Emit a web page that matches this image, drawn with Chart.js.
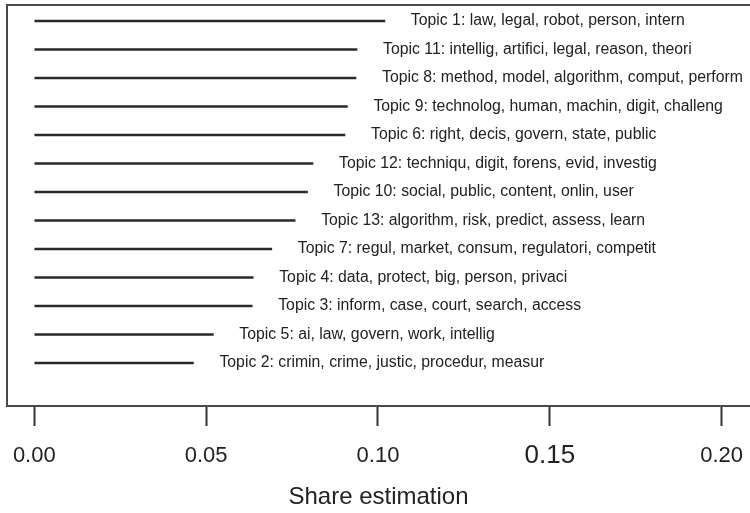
<!DOCTYPE html>
<html>
<head>
<meta charset="utf-8">
<style>
  html, body { margin: 0; padding: 0; background: #fff; overflow: hidden; }
  #wrap { width: 750px; height: 513px; }
</style>
<script src="https://cdn.jsdelivr.net/npm/chart.js@4/dist/chart.umd.min.js"></script>
</head>
<body>
<div id="wrap"><canvas id="c" width="750" height="513"></canvas></div>
<script>
// Topics, listed top to bottom
const topicLabels = [
  "Topic 1: law, legal, robot, person, intern",
  "Topic 11: intellig, artifici, legal, reason, theori",
  "Topic 8: method, model, algorithm, comput, perform",
  "Topic 9: technolog, human, machin, digit, challeng",
  "Topic 6: right, decis, govern, state, public",
  "Topic 12: techniqu, digit, forens, evid, investig",
  "Topic 10: social, public, content, onlin, user",
  "Topic 13: algorithm, risk, predict, assess, learn",
  "Topic 7: regul, market, consum, regulatori, competit",
  "Topic 4: data, protect, big, person, privaci",
  "Topic 3: inform, case, court, search, access",
  "Topic 5: ai, law, govern, work, intellig",
  "Topic 2: crimin, crime, justic, procedur, measur"
];
// Estimated topic shares
const topicShares = [0.1020, 0.0939, 0.0936, 0.0911, 0.0904, 0.0811, 0.0795,
                     0.0759, 0.0691, 0.0637, 0.0634, 0.0521, 0.0463];
const xTickValues = [0, 0.05, 0.10, 0.15, 0.20];
const xTickLabels = ["0.00", "0.05", "0.10", "0.15", "0.20"];
const axisTitle = "Share estimation";

const FONT = "'Liberation Sans', Arial, Helvetica, sans-serif";
const INK = "#222";

// row position: first topic at the top
const rows = topicShares.map((v, i) => ({ x: v, y: topicShares.length - i, label: topicLabels[i] }));

// frame: top and left edges of the plot box
const framePlugin = {
  id: 'frame',
  beforeDatasetsDraw(chart) {
    const { ctx, chartArea: a } = chart;
    ctx.save();
    ctx.strokeStyle = '#4a4a4a';
    ctx.lineWidth = 2;
    ctx.beginPath();
    ctx.moveTo(a.left, a.bottom);
    ctx.lineTo(a.left, a.top);
    ctx.lineTo(chart.width + 2, a.top);
    ctx.stroke();
    ctx.restore();
  }
};

// topic label written just right of each line's end
const topicTextPlugin = {
  id: 'topicText',
  afterDatasetsDraw(chart) {
    const { ctx, scales: { x, y } } = chart;
    ctx.save();
    ctx.font = `15.8px ${FONT}`;
    ctx.fillStyle = INK;
    ctx.textAlign = 'left';
    ctx.textBaseline = 'middle';
    rows.forEach(r => {
      ctx.fillText(r.label, x.getPixelForValue(r.x) + 26, y.getPixelForValue(r.y));
    });
    ctx.restore();
  }
};

new Chart(document.getElementById('c'), {
  type: 'bar',
  data: {
    datasets: [{
      data: rows,
      backgroundColor: '#2a2a2a',
      borderWidth: 0,
      barThickness: 2
    }]
  },
  options: {
    indexAxis: 'y',
    responsive: false,
    animation: false,
    events: [],
    layout: { padding: { left: 7, top: 5, right: 0, bottom: 0 } },
    plugins: { legend: { display: false }, tooltip: { enabled: false }, title: { display: false } },
    scales: {
      x: {
        type: 'linear',
        position: 'bottom',
        min: -0.00794,
        max: 0.20824,
        afterBuildTicks: s => { s.ticks = xTickValues.map(v => ({ value: v })); },
        afterFit: s => { s.height = 107; s.paddingLeft = 0; s.paddingRight = 0; },
        grid: {
          drawOnChartArea: false,
          drawTicks: true,
          tickLength: 20,
          tickWidth: 2,
          tickColor: '#333'
        },
        border: { display: true, color: '#4a4a4a', width: 2 },
        ticks: {
          padding: 17,
          color: INK,
          maxRotation: 0,
          autoSkip: false,
          callback: v => {
            const i = xTickValues.findIndex(t => Math.abs(t - v) < 1e-9);
            return i >= 0 ? xTickLabels[i] : '';
          },
          font: ctx => ({
            family: FONT,
            size: (ctx.tick && Math.abs(ctx.tick.value - 0.15) < 1e-9) ? 26 : 22,
            lineHeight: '25px'
          })
        },
        title: {
          display: true,
          text: axisTitle,
          color: INK,
          font: { family: FONT, size: 24 },
          padding: { top: 0, bottom: 1 }
        }
      },
      y: {
        type: 'linear',
        display: false,
        offset: false,
        min: -0.509,
        max: 13.561
      }
    }
  },
  plugins: [framePlugin, topicTextPlugin]
});
</script>
</body>
</html>
